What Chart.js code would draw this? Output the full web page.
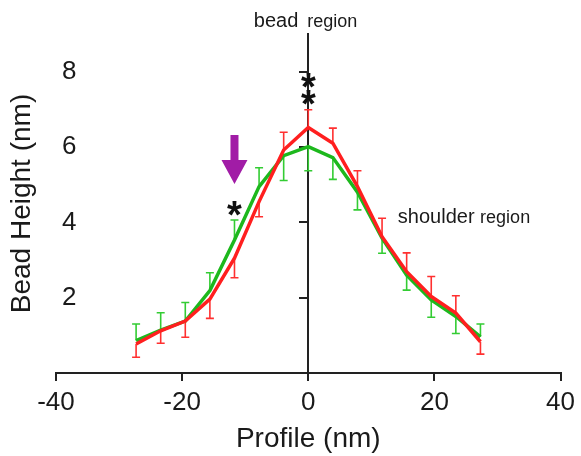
<!DOCTYPE html>
<html>
<head>
<meta charset="utf-8">
<script src="https://cdn.jsdelivr.net/npm/chart.js@4"></script>
<style>
  body { margin: 0; background: #fff; }
  #wrap { width: 581px; height: 456px; }
</style>
</head>
<body>
<div id="wrap"><canvas id="profileChart" width="581" height="456"></canvas></div>
<script>
// Profile positions (nm) across the bead
const profileX = [-27.3, -23.4, -19.5, -15.6, -11.7, -7.8, -3.9, 0, 3.9, 7.8, 11.7, 15.6, 19.5, 23.4, 27.3];

// Bead heights (nm) and their error bars
const greenHeight = [0.86, 1.14, 1.38, 2.19, 3.53, 4.95, 5.77, 6.01, 5.72, 4.80, 3.58, 2.60, 1.94, 1.50, 0.96];
const greenErr = [0.44, 0.46, 0.49, 0.47, 0.53, 0.50, 0.66, 0.64, 0.58, 0.47, 0.40, 0.40, 0.46, 0.45, 0.34];
const redHeight = [0.77, 1.12, 1.38, 1.96, 3.05, 4.55, 5.92, 6.52, 6.10, 4.95, 3.62, 2.69, 2.03, 1.59, 0.83];
const redErr = [0.35, 0.33, 0.43, 0.51, 0.52, 0.40, 0.47, 0.47, 0.40, 0.42, 0.49, 0.50, 0.53, 0.46, 0.33];

const xTicks = [-40, -20, 0, 20, 40];
const yTicks = [2, 4, 6, 8];

const FONT = '"Liberation Sans", Arial, sans-serif';
const TEXT = '#1a1a1a';
const AXIS = '#222';

const ctx = document.getElementById('profileChart').getContext('2d');

function toPoints(ys) {
  return profileX.map((x, i) => ({ x: x, y: ys[i] }));
}

// one-sided error bars: the higher curve gets the upper bar, the lower one the lower bar
const errorBarPlugin = {
  id: 'errorBars',
  beforeDatasetsDraw(chart) {
    const { ctx, scales: { x, y } } = chart;
    ctx.save();
    ctx.lineWidth = 1.6;
    const drawBar = (xv, yv, err, up, color) => {
      const px = x.getPixelForValue(xv);
      const p1 = y.getPixelForValue(yv);
      const p2 = y.getPixelForValue(up ? yv + err : yv - err);
      ctx.strokeStyle = color;
      ctx.beginPath();
      ctx.moveTo(px, p1);
      ctx.lineTo(px, p2);
      ctx.moveTo(px - 4, p2);
      ctx.lineTo(px + 4, p2);
      ctx.stroke();
    };
    profileX.forEach((xv, i) => {
      const greenUp = greenHeight[i] >= redHeight[i];
      drawBar(xv, greenHeight[i], greenErr[i], greenUp, '#33cc33');
      drawBar(xv, redHeight[i], redErr[i], !greenUp, '#ff3030');
    });
    ctx.restore();
  }
};

// region labels, arrow and significance stars
const annotationPlugin = {
  id: 'annotations',
  afterDraw(chart) {
    const { ctx, scales: { x, y } } = chart;
    const x0 = x.getPixelForValue(0);
    ctx.save();
    ctx.fillStyle = TEXT;
    ctx.textBaseline = 'alphabetic';

    ctx.font = '20px ' + FONT;
    ctx.textAlign = 'right';
    ctx.fillText('bead', x0 - 10, 27);
    ctx.font = '18px ' + FONT;
    ctx.textAlign = 'left';
    ctx.fillText('region', x0 - 1, 27);

    const sx = x.getPixelForValue(14.2);
    const sy = y.getPixelForValue(3.97);
    ctx.font = '20px ' + FONT;
    ctx.fillText('shoulder', sx, sy);
    const w = ctx.measureText('shoulder ').width;
    ctx.font = '18px ' + FONT;
    ctx.fillText('region', sx + w, sy);

    // purple arrow
    const ax = x.getPixelForValue(-11.7);
    ctx.fillStyle = '#a11ca6';
    ctx.beginPath();
    ctx.moveTo(ax - 4, 135);
    ctx.lineTo(ax + 4, 135);
    ctx.lineTo(ax + 4, 160);
    ctx.lineTo(ax + 13, 160);
    ctx.lineTo(ax, 184);
    ctx.lineTo(ax - 13, 160);
    ctx.lineTo(ax - 4, 160);
    ctx.closePath();
    ctx.fill();

    // stars
    ctx.fillStyle = '#111';
    ctx.font = 'bold 38px ' + FONT;
    ctx.textAlign = 'center';
    const star = (xv, yv) => {
      ctx.fillText('*', x.getPixelForValue(xv), y.getPixelForValue(yv) + 19);
    };
    star(-11.7, 4.36);
    star(0, 7.74);
    star(0, 7.29);
    ctx.restore();
  }
};

const profileChart = new Chart(ctx, {
  type: 'line',
  data: {
    datasets: [
      { label: 'red', data: toPoints(redHeight), borderColor: '#ff1f1f', borderWidth: 3.5, pointRadius: 0, tension: 0 },
      { label: 'green', data: toPoints(greenHeight), borderColor: '#1db81d', borderWidth: 3.5, pointRadius: 0, tension: 0 }
    ]
  },
  options: {
    responsive: false,
    animation: false,
    layout: { padding: { top: 34, right: 18, left: 0, bottom: 0 } },
    plugins: { legend: { display: false }, tooltip: { enabled: false } },
    scales: {
      x: {
        type: 'linear',
        min: -40,
        max: 40,
        afterBuildTicks: s => { s.ticks = xTicks.map(v => ({ value: v })); },
        afterFit: s => { s.height = 83; },
        border: { color: AXIS, width: 2 },
        grid: { drawOnChartArea: false, drawTicks: true, tickLength: 8, color: AXIS, lineWidth: 2 },
        ticks: { font: { family: FONT, size: 26 }, color: TEXT, padding: 6 },
        title: { display: true, text: 'Profile (nm)', font: { family: FONT, size: 28 }, color: TEXT, padding: 0 }
      },
      y: {
        min: 0,
        max: 9,
        afterBuildTicks: s => { s.ticks = yTicks.map(v => ({ value: v })); },
        afterFit: s => { s.width = 56; },
        border: { display: false },
        grid: { display: false },
        ticks: { mirror: true, padding: 6, font: { family: FONT, size: 26 }, color: TEXT },
        title: { display: true, text: 'Bead Height (nm)', font: { family: FONT, size: 28 }, color: TEXT, padding: { top: 5, bottom: 0 } }
      },
      y2: {
        axis: 'y',
        position: { x: 0 },
        min: 0,
        max: 9,
        afterBuildTicks: s => { s.ticks = yTicks.map(v => ({ value: v })); },
        border: { color: AXIS, width: 2 },
        grid: { drawOnChartArea: false, drawTicks: true, tickLength: 8, color: AXIS, lineWidth: 2 },
        ticks: { display: false }
      }
    }
  },
  plugins: [errorBarPlugin, annotationPlugin]
});
</script>
</body>
</html>
